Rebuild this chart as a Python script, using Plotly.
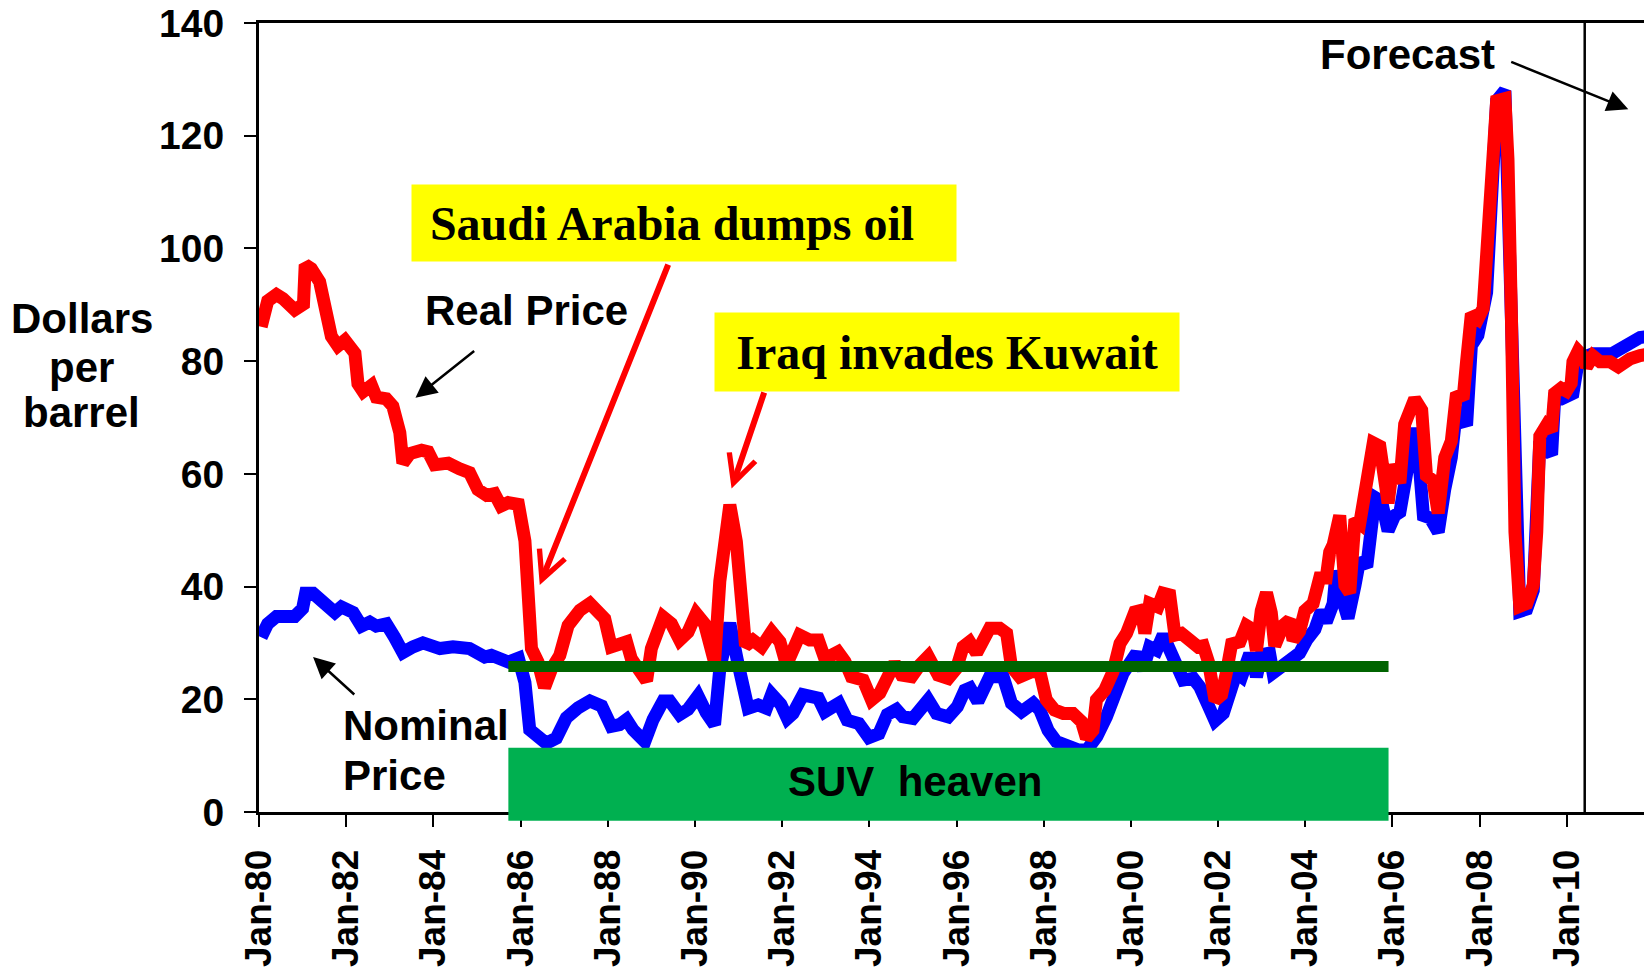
import plotly.graph_objects as go

# Real (inflation adjusted) oil price, dollars per barrel
real_years = [1980.05, 1980.20, 1980.40, 1980.55, 1980.82, 1981.02, 1981.06, 1981.20, 1981.39, 1981.55,
              1981.66, 1981.81, 1981.97, 1982.20, 1982.27, 1982.39, 1982.58, 1982.69, 1982.92, 1983.07,
              1983.23, 1983.30, 1983.46, 1983.73, 1983.88, 1984.03, 1984.34, 1984.60, 1984.83, 1985.02,
              1985.22, 1985.40, 1985.55, 1985.72, 1985.95, 1986.10, 1986.25, 1986.40, 1986.55, 1986.71,
              1986.90, 1987.09, 1987.36, 1987.59, 1987.74, 1987.93, 1988.08, 1988.27, 1988.43, 1988.54,
              1988.70, 1988.89, 1989.00, 1989.15, 1989.27, 1989.46, 1989.65, 1989.84, 1990.03, 1990.22,
              1990.34, 1990.45, 1990.57, 1990.76, 1990.80, 1990.95, 1991.05, 1991.16, 1991.33, 1991.53,
              1991.76, 1991.95, 1992.10, 1992.40, 1992.63, 1992.83, 1992.98, 1993.28, 1993.44, 1993.59,
              1993.86, 1994.05, 1994.24, 1994.39, 1994.58, 1994.74, 1994.97, 1995.16, 1995.35, 1995.58,
              1995.81, 1996.00, 1996.15, 1996.30, 1996.46, 1996.76, 1996.99, 1997.15, 1997.26, 1997.45,
              1997.72, 1997.91, 1998.06, 1998.25, 1998.45, 1998.67, 1998.87, 1998.98, 1999.13, 1999.21,
              1999.40, 1999.59, 1999.75, 1999.90, 2000.09, 2000.24, 2000.32, 2000.43, 2000.62, 2000.74,
              2000.89, 2001.01, 2001.16, 2001.35, 2001.54, 2001.66, 2001.78, 2001.93, 2002.08, 2002.19,
              2002.31, 2002.50, 2002.65, 2002.80, 2002.88, 2002.99, 2003.11, 2003.22, 2003.30, 2003.49,
              2003.64, 2003.72, 2003.87, 2003.99, 2004.18, 2004.33, 2004.48, 2004.56, 2004.64, 2004.79,
              2004.91, 2005.02, 2005.14, 2005.25, 2005.33, 2005.41, 2005.56, 2005.71, 2005.82, 2005.90,
              2006.01, 2006.17, 2006.28, 2006.40, 2006.51, 2006.67, 2006.78, 2006.93, 2007.05, 2007.20,
              2007.28, 2007.35, 2007.47, 2007.62, 2007.70, 2007.81, 2007.96, 2008.08, 2008.16, 2008.27,
              2008.39, 2008.58, 2008.65, 2008.73, 2008.81, 2008.92, 2009.08, 2009.23, 2009.31, 2009.38,
              2009.53, 2009.65, 2009.72, 2009.87, 2009.99, 2010.10, 2010.14, 2010.26, 2010.37, 2010.45,
              2010.60, 2010.76, 2010.99, 2011.18, 2011.30, 2011.45, 2011.68, 2011.91]
real_price = [86.1, 90.7, 91.8, 91.1, 89.1, 90.1, 97.1, 96.4, 94.1, 89.4,
              84.4, 82.7, 83.7, 81.4, 76.0, 74.6, 75.7, 73.6, 73.3, 72.0,
              67.3, 61.9, 63.6, 64.2, 63.9, 61.6, 61.9, 60.9, 60.2, 57.2,
              56.2, 56.5, 54.3, 54.9, 54.6, 48.1, 29.0, 26.6, 22.1, 25.4,
              27.8, 33.1, 35.8, 37.0, 36.1, 34.3, 29.3, 29.6, 30.2, 27.2,
              25.4, 23.3, 29.0, 31.4, 34.6, 33.4, 30.5, 31.9, 35.2, 33.4,
              28.4, 26.6, 40.9, 53.5, 54.5, 48.0, 38.0, 29.5, 30.5, 29.3,
              32.0, 30.2, 26.1, 31.4, 30.5, 30.5, 27.2, 28.4, 26.7, 24.0,
              23.4, 19.9, 21.1, 24.0, 26.4, 24.3, 24.0, 26.1, 27.6, 24.3,
              23.7, 25.5, 29.3, 30.2, 28.2, 32.6, 32.6, 31.7, 25.8, 24.0,
              24.9, 24.9, 19.9, 18.1, 17.5, 17.5, 16.0, 13.1, 14.5, 19.9,
              21.6, 24.9, 29.9, 31.7, 35.5, 35.8, 31.7, 37.0, 36.4, 38.8,
              38.5, 31.4, 31.7, 30.5, 29.3, 29.5, 26.6, 19.8, 20.8, 24.7,
              29.8, 30.2, 33.1, 32.4, 28.6, 35.7, 38.9, 35.4, 29.5, 33.1,
              34.1, 30.5, 32.1, 35.7, 37.0, 41.5, 41.5, 46.1, 47.4, 52.6,
              40.2, 38.9, 51.9, 51.2, 55.1, 59.0, 65.5, 64.9, 57.7, 54.8,
              61.6, 58.4, 68.8, 70.7, 73.3, 71.3, 59.7, 58.8, 53.0, 62.9,
              64.2, 65.8, 74.3, 73.3, 79.9, 88.4, 87.5, 89.4, 98.8, 112.0,
              126.2, 126.6, 115.8, 87.5, 49.7, 36.5, 37.0, 40.3, 49.7, 66.7,
              68.6, 67.6, 74.3, 75.2, 74.7, 76.1, 79.9, 81.8, 80.9, 79.0,
              80.9, 79.9, 79.9, 79.0, 79.9, 80.4, 81.0, 81.3]

# Nominal oil price, dollars per barrel
nominal_years = [1980.05, 1980.20, 1980.40, 1980.82, 1981.00, 1981.07, 1981.24, 1981.43, 1981.59, 1981.74,
                 1981.89, 1982.16, 1982.35, 1982.54, 1982.69, 1982.92, 1983.11, 1983.30, 1983.53, 1983.76,
                 1984.15, 1984.45, 1984.83, 1985.18, 1985.33, 1985.52, 1985.72, 1985.95, 1986.10, 1986.21,
                 1986.44, 1986.59, 1986.82, 1987.05, 1987.32, 1987.59, 1987.86, 1988.08, 1988.27, 1988.43,
                 1988.58, 1988.85, 1989.04, 1989.27, 1989.42, 1989.65, 1989.84, 1990.07, 1990.26, 1990.45,
                 1990.57, 1990.80, 1990.97, 1991.12, 1991.22, 1991.45, 1991.64, 1991.76, 1991.97, 1992.12,
                 1992.25, 1992.48, 1992.83, 1992.98, 1993.30, 1993.49, 1993.76, 1993.99, 1994.22, 1994.41,
                 1994.62, 1994.77, 1995.00, 1995.35, 1995.54, 1995.81, 1996.02, 1996.19, 1996.31, 1996.49,
                 1996.76, 1997.07, 1997.26, 1997.49, 1997.76, 1997.91, 1998.10, 1998.29, 1998.60, 1998.80,
                 1998.99, 1999.22, 1999.44, 1999.63, 1999.82, 2000.13, 2000.28, 2000.43, 2000.59, 2000.74,
                 2000.89, 2001.01, 2001.20, 2001.43, 2001.58, 2001.78, 2001.93, 2002.12, 2002.27, 2002.42,
                 2002.54, 2002.69, 2002.80, 2002.88, 2002.99, 2003.18, 2003.26, 2003.49, 2003.72, 2003.87,
                 2004.03, 2004.22, 2004.37, 2004.48, 2004.64, 2004.71, 2004.83, 2004.98, 2005.14, 2005.25,
                 2005.41, 2005.48, 2005.60, 2005.75, 2005.90, 2006.05, 2006.17, 2006.36, 2006.47, 2006.63,
                 2006.71, 2006.86, 2007.05, 2007.20, 2007.35, 2007.47, 2007.70, 2007.81, 2007.96, 2008.16,
                 2008.39, 2008.58, 2008.73, 2008.81, 2008.92, 2009.08, 2009.23, 2009.38, 2009.53, 2009.65,
                 2009.72, 2009.87, 2010.14, 2010.26, 2010.45, 2010.60, 2011.03, 2011.22, 2011.45, 2011.68,
                 2011.91]
nominal_price = [31.0, 33.4, 34.7, 34.7, 36.1, 38.8, 38.8, 37.7, 36.1, 35.4,
                 36.4, 35.4, 33.0, 33.7, 33.0, 33.4, 31.0, 28.3, 29.3, 30.0,
                 29.0, 29.3, 29.0, 27.5, 27.8, 27.2, 26.6, 27.3, 23.0, 14.6,
                 13.1, 12.2, 13.1, 16.7, 18.5, 19.7, 18.8, 15.2, 15.5, 16.4,
                 14.6, 12.5, 16.4, 19.7, 19.7, 17.3, 18.2, 20.6, 17.6, 15.5,
                 25.4, 33.5, 27.0, 20.0, 18.4, 19.0, 18.4, 20.9, 19.1, 16.6,
                 17.5, 20.8, 20.2, 17.8, 19.3, 16.3, 15.7, 13.2, 13.9, 17.3,
                 18.2, 16.9, 16.6, 19.9, 17.5, 16.9, 18.7, 21.6, 22.0, 19.6,
                 24.0, 24.0, 19.3, 17.8, 19.3, 18.1, 14.5, 12.5, 11.5, 11.0,
                 11.0, 13.4, 16.9, 21.1, 24.6, 28.2, 25.2, 29.3, 28.7, 31.4,
                 28.7, 25.8, 23.4, 23.7, 22.2, 18.8, 16.2, 17.5, 21.4, 24.7,
                 24.0, 27.3, 27.3, 24.0, 27.9, 28.2, 24.7, 26.3, 27.9, 28.2,
                 30.5, 32.4, 35.7, 33.7, 37.0, 42.8, 38.3, 34.4, 40.2, 44.8,
                 43.5, 49.9, 55.8, 55.1, 49.9, 52.6, 53.2, 61.6, 68.1, 60.3,
                 52.6, 52.2, 49.7, 57.3, 62.9, 71.4, 68.6, 82.8, 84.6, 92.2,
                 126.2, 128.0, 87.5, 49.7, 35.6, 36.0, 39.3, 65.8, 64.8, 63.4,
                 73.3, 73.3, 74.3, 79.9, 80.9, 81.3, 81.3, 82.3, 83.2, 84.2,
                 84.4]

tick_years = list(range(1980, 2011, 2))
tick_labels = ['Jan-%02d' % (y % 100) for y in tick_years]

# SUV heaven period and the average price line drawn over it
suv_start, suv_end = 1985.72, 2005.91
suv_level = 25.8
suv_top = 11.4
forecast_start = 2010.41

Y_MAX = 140
X_MAX = 2011.77
sans = 'Arial, Liberation Sans, sans-serif'
serif = 'Times New Roman, Liberation Serif, serif'

fig = go.Figure()
fig.add_trace(go.Scatter(x=nominal_years, y=nominal_price, mode='lines',
                         line=dict(color='#0000FF', width=13), name='Nominal Price'))
fig.add_trace(go.Scatter(x=real_years, y=real_price, mode='lines',
                         line=dict(color='#FF0000', width=13), name='Real Price'))

# SUV heaven box (drops a little below the axis line)
fig.add_shape(type='rect', xref='x', yref='paper', x0=suv_start, x1=suv_end,
              y0=-0.011, y1=suv_top / Y_MAX, fillcolor='#00B050', line=dict(width=0), layer='above')
fig.add_shape(type='line', xref='x', yref='y', x0=suv_start, x1=suv_end, y0=suv_level, y1=suv_level,
              line=dict(color='#006400', width=11), layer='above')
# forecast divider
fig.add_shape(type='line', xref='x', yref='y', x0=forecast_start, x1=forecast_start, y0=0, y1=Y_MAX,
              line=dict(color='black', width=2.5), layer='above')

big = dict(family=sans, size=42, color='black', weight='bold')
boxfont = dict(family=serif, size=48, color='black', weight='bold')

annotations = [
    dict(text='Dollars', xref='paper', yref='paper', x=-0.128, y=0.625, xanchor='center',
         showarrow=False, font=big),
    dict(text='per', xref='paper', yref='paper', x=-0.128, y=0.563, xanchor='center',
         showarrow=False, font=big),
    dict(text='barrel', xref='paper', yref='paper', x=-0.128, y=0.506, xanchor='center',
         showarrow=False, font=big),
    dict(text='Real Price', x=1986.14, y=88.9, showarrow=False, font=big),
    dict(text='Nominal', x=1981.89, y=15.4, xanchor='left', showarrow=False, font=big),
    dict(text='Price', x=1981.89, y=6.4, xanchor='left', showarrow=False, font=big),
    dict(text='Forecast', x=2006.35, y=134.5, showarrow=False, font=big),
    dict(text='SUV\u00a0 heaven', x=1995.05, y=5.5, showarrow=False, font=big),
    dict(text='Saudi Arabia dumps oil\u00a0\u00a0', x=1989.74, y=104.5, width=544, height=76, borderpad=0,
         bgcolor='#FFFF00', showarrow=False, font=boxfont),
    dict(text='Iraq invades Kuwait', x=1995.78, y=81.6, width=464, height=78, borderpad=0,
         bgcolor='#FFFF00', showarrow=False, font=boxfont),
    # black arrows
    dict(text='', x=1983.59, y=73.5, ax=1984.97, ay=82.0, axref='x', ayref='y', showarrow=True,
         arrowhead=2, arrowsize=1.7, arrowwidth=2.5, arrowcolor='black'),
    dict(text='', x=1981.24, y=27.5, ax=1982.22, ay=20.6, axref='x', ayref='y', showarrow=True,
         arrowhead=2, arrowsize=1.7, arrowwidth=2.5, arrowcolor='black'),
    dict(text='', x=2011.41, y=124.7, ax=2008.69, ay=133.2, axref='x', ayref='y', showarrow=True,
         arrowhead=2, arrowsize=1.7, arrowwidth=2.5, arrowcolor='black'),
    # red arrows
    dict(text='', x=1986.44, y=40.3, ax=1989.40, ay=97.4, axref='x', ayref='y', showarrow=True,
         arrowhead=5, arrowsize=0.9, arrowwidth=6, arrowcolor='#FF0000'),
    dict(text='', x=1990.84, y=57.4, ax=1991.60, ay=74.7, axref='x', ayref='y', showarrow=True,
         arrowhead=5, arrowsize=0.9, arrowwidth=6, arrowcolor='#FF0000'),
]

# the page body adds an 8px margin, so the figure is sized to fit inside the window
fig.update_layout(
    width=1636, height=961,
    margin=dict(l=251, r=0, t=15, b=157),
    plot_bgcolor='white', paper_bgcolor='white',
    showlegend=False,
    annotations=annotations,
    xaxis=dict(range=[1980, X_MAX], tickvals=tick_years, ticktext=tick_labels, tickangle=-90,
               ticks='outside', ticklen=12, tickwidth=2, tickcolor='black',
               showline=True, linecolor='black', linewidth=3, mirror=True,
               showgrid=False, zeroline=False, ticklabelstandoff=8, automargin=False,
               tickfont=dict(family=sans, size=37, color='black', weight='bold')),
    yaxis=dict(range=[0, Y_MAX], dtick=20, ticks='outside', ticklen=12, tickwidth=2, tickcolor='black',
               showline=True, linecolor='black', linewidth=3, showgrid=False, zeroline=False,
               ticklabelstandoff=12, ticklabeloverflow='allow', automargin=False,
               tickfont=dict(family=sans, size=39, color='black', weight='bold')),
)

fig.write_html("out.html")
